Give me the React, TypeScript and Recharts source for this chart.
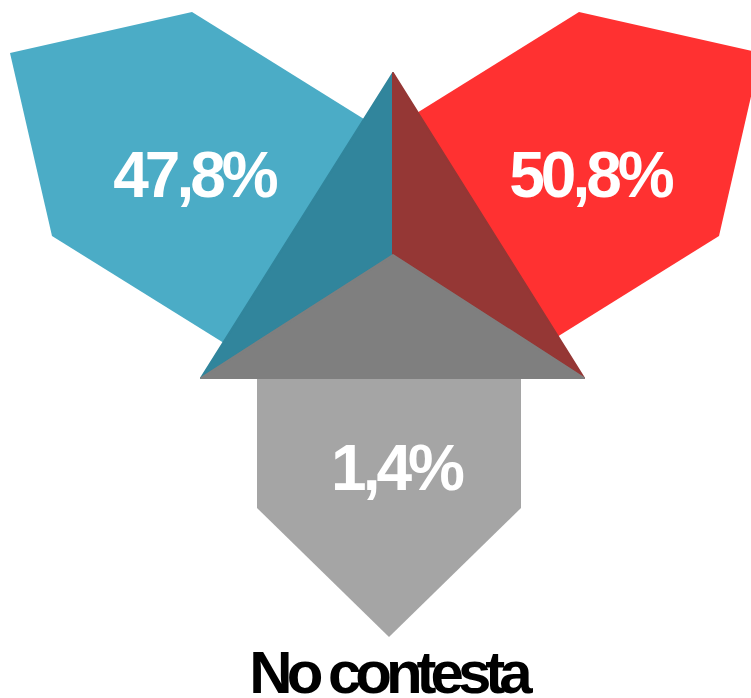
import React from "react";
import { BarChart, Customized, Polygon } from "recharts";

const categories = ["Opción A", "Opción B", "No contesta"];
const values = [47.8, 50.8, 1.4];
const arrowColors = ["#4BACC6", "#FF3131", "#A5A5A5"];
const faceColors = ["#31859C", "#953735", "#7F7F7F"];

const W = 751;
const H = 698;

const fmt = (v: number) => v.toFixed(1).replace(".", ",") + "%";

type P = { x: number; y: number };
const pts = (a: number[][]): P[] => a.map(([x, y]) => ({ x, y }));

// decorative shapes of the infographic
const arrows = [
  pts([[10, 53], [192, 12], [404, 144], [264, 368], [52, 236]]),
  pts([[761, 53], [579, 12], [367, 144], [507, 368], [719, 236]]),
  pts([[257, 320], [521, 320], [521, 508], [389, 637], [257, 508]]),
];
const apex: [number, number] = [393, 73];
const inner: [number, number] = [393, 255];
const bl: [number, number] = [201, 378];
const br: [number, number] = [584, 378];
const faces = [
  pts([apex, inner, bl]),
  pts([apex, inner, br]),
  pts([inner, bl, br]),
];
const labelPos = [
  [194, 197],
  [590, 197],
  [396, 490],
];

const data = categories.map((c, i) => ({ name: c, value: values[i] }));

function Infographic() {
  return (
    <g>
      {arrows.map((p, i) => (
        <Polygon key={"a" + i} points={p} fill={arrowColors[i]} stroke="none" />
      ))}
      {faces.map((p, i) => (
        <Polygon
          key={"f" + i}
          points={p}
          fill={faceColors[i]}
          stroke={faceColors[i]}
          strokeWidth={2}
          strokeLinejoin="round"
        />
      ))}
      {data.map((d, i) => (
        <text
          key={"t" + i}
          x={labelPos[i][0]}
          y={labelPos[i][1]}
          textAnchor="middle"
          fill="#FFFFFF"
          fontFamily="'Liberation Sans', Arial, sans-serif"
          fontWeight="bold"
          fontSize={64}
          letterSpacing={-4}
        >
          {fmt(d.value)}
        </text>
      ))}
      <text
        x={388}
        y={693}
        textAnchor="middle"
        fill="#000000"
        fontFamily="'Liberation Sans', Arial, sans-serif"
        fontWeight="bold"
        fontSize={60}
        letterSpacing={-6}
      >
        {categories[2]}
      </text>
    </g>
  );
}

export default function App() {
  return (
    <div style={{ position: "absolute", left: 0, top: 0, width: W, height: H, overflow: "hidden" }}>
      <BarChart width={W} height={H} data={data} margin={{ top: 0, right: 0, bottom: 0, left: 0 }}>
        <Customized component={Infographic} />
      </BarChart>
    </div>
  );
}
